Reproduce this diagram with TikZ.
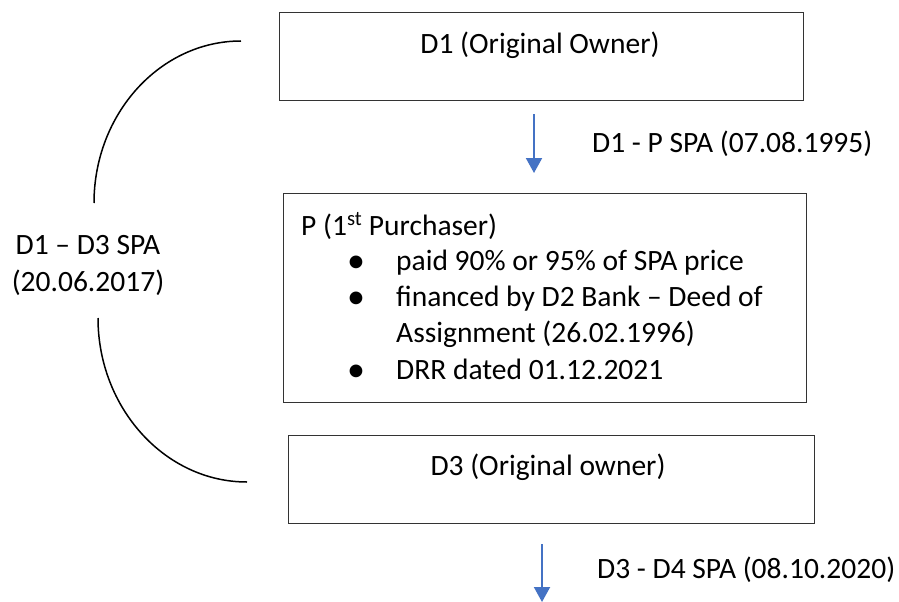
\documentclass[tikz,border=0pt]{standalone}
\usepackage{fontspec}
\setmainfont{Carlito}
\usetikzlibrary{arrows.meta}
\definecolor{arrowblue}{HTML}{4472C4}
\begin{document}
\begin{tikzpicture}[x=1pt,y=-1pt,
  box/.style={draw=black!80,line width=1.2pt,inner sep=0pt,anchor=north west},
  txt/.style={font=\fontsize{29.5}{36}\selectfont,inner sep=0pt},
  bul/.style={font=\fontsize{36}{36}\selectfont,inner sep=0pt,anchor=base},
  flow/.style={draw=arrowblue,line width=2pt,-{Triangle[width=16pt,length=15pt]}},
  arcline/.style={draw=black,line width=1.5pt}]
\useasboundingbox (0,0) rectangle (899,602);
% boxes
\node[box,minimum width=524pt,minimum height=88pt] (d1) at (279,12) {};
\node[box,minimum width=523pt,minimum height=209pt] (p) at (283,193) {};
\node[box,minimum width=526pt,minimum height=88pt] (d3) at (288,435) {};
% box texts
\node[txt,anchor=base] (d1t) at (540,54) {D1 (Original Owner)};
\node[txt,anchor=base] (d3t) at (548,475) {D3 (Original owner)};
\node[txt,anchor=base west] (pt) at (301,235) {P (1\textsuperscript{st} Purchaser)};
\node[bul] (b1) at (356,272) {•};
\node[txt,anchor=base west] (l1) at (396,270) {paid 90\% or 95\% of SPA price};
\node[bul] (b2) at (356,308) {•};
\node[txt,anchor=base west] (l2) at (396,306) {financed by D2 Bank – Deed of};
\node[txt,anchor=base west] (l3) at (396,342) {Assignment (26.02.1996)};
\node[bul] (b3) at (356,381) {•};
\node[txt,anchor=base west] (l4) at (396,379) {DRR dated 01.12.2021};
% arrows
\coordinate (a1s) at (534,114);
\coordinate (a1e) at (534,173);
\draw[flow] (a1s) -- (a1e);
\node[txt,anchor=base west] (a1l) at (592,152) {D1 - P SPA (07.08.1995)};
\coordinate (a2s) at (542,544);
\coordinate (a2e) at (542,602);
\draw[flow] (a2s) -- (a2e);
\node[txt,anchor=base west] (a2l) at (597,578) {D3 - D4 SPA (08.10.2020)};
% left label
\node[txt,anchor=base] (sl1) at (88,254) {D1 – D3 SPA};
\node[txt,anchor=base] (sl2) at (88,291) {(20.06.2017)};
% arcs
\coordinate (u1) at (241,41);
\coordinate (u2) at (94,203);
\coordinate (w1) at (98,318);
\coordinate (w2) at (247,482);
\draw[arcline] (u1) .. controls (160,41) and (94,114) .. (u2);
\draw[arcline] (w1) .. controls (98,408) and (165,482) .. (w2);
\end{tikzpicture}
\end{document}
